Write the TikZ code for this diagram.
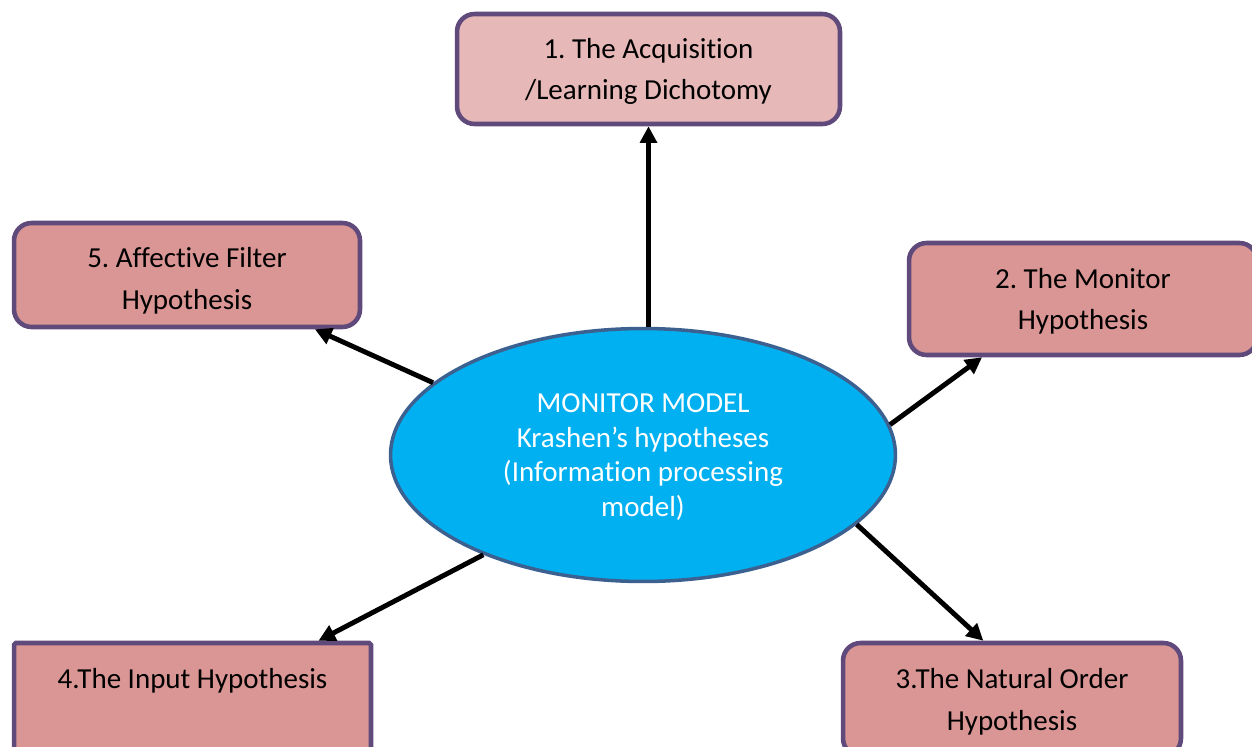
\documentclass[tikz,border=0pt]{standalone}
\usepackage{fontspec}
\setmainfont{Carlito}[RawFeature=-liga]
\usetikzlibrary{arrows.meta,shapes.geometric}
\definecolor{boxlight}{HTML}{E6B9B8}
\definecolor{boxrose}{HTML}{D99694}
\definecolor{boxedge}{HTML}{604A7B}
\definecolor{ovalfill}{HTML}{00B0F0}
\definecolor{ovaledge}{HTML}{3C6190}
\frenchspacing
\begin{document}
\begin{tikzpicture}[x=0.02cm,y=-0.02cm,
  hyp/.style={draw=boxedge, line width=2.6pt, fill=boxrose, rounded corners=10pt,
    align=center, inner sep=0pt, text depth=0pt, font=\fontsize{16.5}{23.8}\selectfont},
  link/.style={line width=2.8pt, -{Triangle[length=9.5pt,width=9.5pt]}}]
\useasboundingbox (0,0) rectangle (1252,747);
\clip (0,0) rectangle (1252,747);

% the five hypotheses
\node[hyp, fill=boxlight, minimum width=7.66cm, minimum height=2.2cm] (b1) at (648.5,69)
  {1. The Acquisition\\/Learning Dichotomy};
\node[hyp, minimum width=6.96cm, minimum height=2.24cm] (b2) at (1083,299)
  {2. The Monitor\\Hypothesis};
\node[hyp, minimum width=6.76cm, minimum height=2.26cm] (b3) at (1012,699.5)
  {3.The Natural Order\\Hypothesis};
\node[hyp, rounded corners=1pt, minimum width=7.14cm, minimum height=2.26cm] (b4) at (192.5,699.5)
  {4.The Input Hypothesis\\\vphantom{Hypothesis}};
\node[hyp, text height=39pt, minimum width=6.92cm, minimum height=2.08cm] (b5) at (187,275)
  {5. Affective Filter\\Hypothesis};

% central model
\node[ellipse, draw=ovaledge, line width=2pt, fill=ovalfill, minimum width=10.1cm,
  minimum height=5.06cm, inner sep=0pt, text=white, align=center, text depth=0pt,
  font=\fontsize{16.5}{19.8}\selectfont] (mm) at (643,455)
  {MONITOR MODEL\\Krashen’s hypotheses\\(Information processing\\model)};

% connectors
\draw[link] (mm.north -| b1.south) -- (b1.south);
\draw[link] (mm.161) -- (b5.-23);
\draw[link] (mm.7.6) -- (b2.210);
\draw[link] (mm.212) -- (b4.25);
\draw[link] (mm.-18.5) -- (b3.116);
\end{tikzpicture}
\end{document}
